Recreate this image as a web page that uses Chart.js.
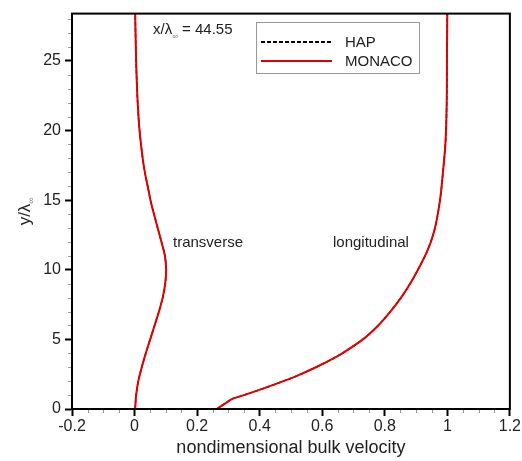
<!DOCTYPE html>
<html>
<head>
<meta charset="utf-8">
<script src="https://cdn.jsdelivr.net/npm/chart.js@4.4.1/dist/chart.umd.min.js"></script>
<style>
  html, body { margin: 0; padding: 0; background: #fff; }
  #wrap { width: 522px; height: 461px; }
</style>
</head>
<body>
<div id="wrap"><canvas id="profile" width="522" height="461"></canvas></div>
<script>
// wall-normal stations (y / lambda_inf)
var yTrans = [0, 1, 2, 3, 4, 5, 6, 7, 8, 9, 10, 11, 12, 13, 14, 15, 16, 17, 18, 20, 22, 25, 28.4];
var uTrans = [0.002, 0.005, 0.012, 0.023, 0.036, 0.05, 0.064, 0.078, 0.09, 0.098, 0.101, 0.097, 0.086, 0.074, 0.062, 0.051, 0.042, 0.033, 0.026, 0.016, 0.01, 0.005, 0.002];

var yLong = [0, 0.4, 0.76, 1.0, 1.5, 2.0, 2.4, 3.0, 3.6, 4.0, 5.0, 6.0, 7.0, 8.0, 9.0, 10.0, 11.3, 12.7, 14.9, 17.0, 19.1, 22, 26, 28.4];
var uLong = [0.263, 0.29, 0.316, 0.35, 0.415, 0.476, 0.521, 0.58, 0.633, 0.664, 0.73, 0.779, 0.818, 0.852, 0.881, 0.906, 0.935, 0.957, 0.976, 0.986, 0.994, 0.998, 0.999, 1.0];

var seriesNames = ['HAP', 'MONACO'];
var xTicks = [-0.2, 0, 0.2, 0.4, 0.6, 0.8, 1, 1.2];
var yTicks = [0, 5, 10, 15, 20, 25];

var FONT = "'Liberation Sans', Arial, sans-serif";
var RED = '#e00000';

function pts(xs, ys) {
  return ys.map(function(y, i) { return { x: xs[i], y: y }; });
}

// draws frame, minor ticks, y title, labels and boxed legend
var extras = {
  id: 'extras',
  afterDraw: function(chart) {
    var ctx = chart.ctx, a = chart.chartArea;
    var xs = chart.scales.x, ys = chart.scales.y;
    ctx.save();
    // minor ticks
    ctx.strokeStyle = '#9a9a9a';
    ctx.lineWidth = 1;
    ctx.beginPath();
    for (var k = -4; k <= 24; k++) {
      if (k % 4 === 0) continue;
      var px = Math.round(xs.getPixelForValue(k * 0.05)) + 0.5;
      ctx.moveTo(px, a.bottom); ctx.lineTo(px, a.bottom + 4);
    }
    for (var j = 1; j <= 28; j++) {
      if (j % 5 === 0) continue;
      var py = Math.round(ys.getPixelForValue(j)) + 0.5;
      ctx.moveTo(a.left - 4, py); ctx.lineTo(a.left, py);
    }
    ctx.stroke();
    // frame
    ctx.strokeStyle = '#000';
    ctx.lineWidth = 2;
    ctx.strokeRect(a.left, a.top, a.right - a.left, a.bottom - a.top);

    // y axis title with subscript
    ctx.fillStyle = '#222';
    ctx.translate(24, (a.top + a.bottom) / 2);
    ctx.rotate(-Math.PI / 2);
    ctx.font = '17px ' + FONT;
    ctx.textBaseline = 'alphabetic';
    var w1 = ctx.measureText('y/λ').width;
    ctx.font = '9px ' + FONT;
    var w2 = ctx.measureText('∞').width;
    var x0 = -(w1 + w2) / 2;
    ctx.font = '17px ' + FONT;
    ctx.textAlign = 'left';
    ctx.fillText('y/λ', x0, 6);
    ctx.font = '9px ' + FONT;
    ctx.fillStyle = '#777';
    ctx.fillText('∞', x0 + w1, 10);
    ctx.setTransform(1, 0, 0, 1, 0, 0);

    // station annotation
    ctx.fillStyle = '#222';
    ctx.textAlign = 'left';
    ctx.font = '15px ' + FONT;
    ctx.fillText('x/λ', 153, 34);
    var w3 = ctx.measureText('x/λ').width;
    ctx.font = '8px ' + FONT;
    ctx.fillStyle = '#777';
    ctx.fillText('∞', 153 + w3, 39);
    var w4 = ctx.measureText('∞').width;
    ctx.font = '15px ' + FONT;
    ctx.fillStyle = '#222';
    ctx.fillText(' = 44.55', 153 + w3 + w4, 34);

    // curve labels
    ctx.textBaseline = 'middle';
    ctx.fillText('transverse', 173, 243);
    ctx.fillText('longitudinal', 333, 243);

    // legend
    ctx.strokeStyle = '#999';
    ctx.lineWidth = 1;
    ctx.strokeRect(256.5, 22.5, 163, 51);
    var rows = [42, 61];
    seriesNames.forEach(function(name, i) {
      var ds = chart.data.datasets.find(function(d) { return d.label === name; });
      ctx.strokeStyle = ds.borderColor;
      ctx.lineWidth = 2;
      ctx.setLineDash(ds.borderDash || []);
      ctx.beginPath();
      ctx.moveTo(261, rows[i]); ctx.lineTo(332, rows[i]);
      ctx.stroke();
      ctx.setLineDash([]);
      ctx.fillStyle = '#222';
      ctx.fillText(name, 345, rows[i] + 1);
    });
    ctx.restore();
  }
};

function line(label, color, dash, xs, ys, width) {
  return {
    label: label,
    data: pts(xs, ys),
    borderColor: color,
    borderDash: dash,
    borderWidth: width,
    pointRadius: 0,
    fill: false,
    cubicInterpolationMode: 'monotone'
  };
}

new Chart(document.getElementById('profile'), {
  type: 'line',
  data: {
    datasets: [
      line('MONACO', RED, [], uTrans, yTrans, 2),
      line('MONACO', RED, [], uLong, yLong, 2),
      line('HAP', '#000', [4, 2], uTrans, yTrans, 1.5),
      line('HAP', '#000', [4, 2], uLong, yLong, 1.5)
    ]
  },
  options: {
    indexAxis: 'y',
    responsive: false,
    animation: false,
    layout: { padding: { top: 10, right: 12, left: 0, bottom: 0 } },
    plugins: { legend: { display: false }, tooltip: { enabled: false } },
    scales: {
      x: {
        type: 'linear',
        min: -0.2,
        max: 1.2,
        afterFit: function(s) { s.height = 52; },
        afterBuildTicks: function(s) { s.ticks = xTicks.map(function(v) { return { value: v }; }); },
        ticks: {
          color: '#222',
          font: { family: FONT, size: 16 },
          padding: 1,
          maxRotation: 0,
          autoSkip: false,
          callback: function(v) { return String(+v.toFixed(1)); }
        },
        grid: { drawOnChartArea: false, tickLength: 7, tickColor: '#000', tickWidth: 2 },
        border: { display: true, color: '#000', width: 2 },
        title: {
          display: true,
          text: 'nondimensional bulk velocity',
          color: '#222',
          font: { family: FONT, size: 18 },
          padding: { top: 0, bottom: 2 }
        }
      },
      y: {
        type: 'linear',
        min: 0,
        max: 28.4,
        afterFit: function(s) { s.width = 72; },
        afterBuildTicks: function(s) { s.ticks = yTicks.map(function(v) { return { value: v }; }); },
        ticks: {
          color: '#222',
          font: { family: FONT, size: 16 },
          padding: 4,
          autoSkip: false
        },
        grid: { drawOnChartArea: false, tickLength: 7, tickColor: '#000', tickWidth: 2 },
        border: { display: true, color: '#000', width: 2 }
      }
    }
  },
  plugins: [extras]
});
</script>
</body>
</html>
